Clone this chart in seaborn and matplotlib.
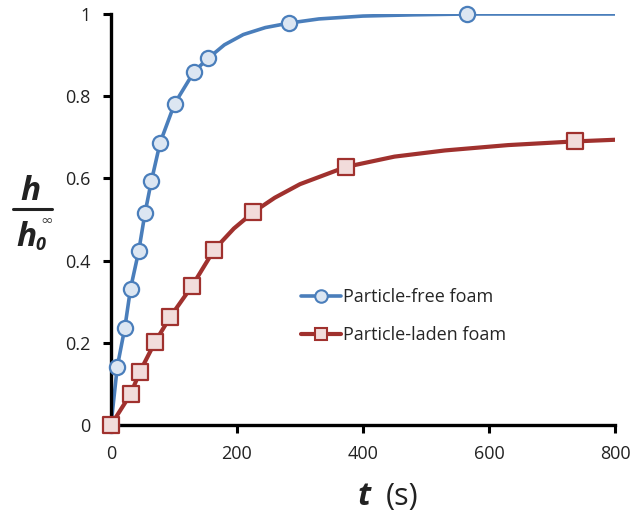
import matplotlib
matplotlib.use("Agg")
import matplotlib.pyplot as plt
import seaborn as sns
from matplotlib.lines import Line2D

# ---- data ----
blue_t = [0, 10, 22, 31, 44, 54, 64, 78, 101, 132, 154, 283, 565]
blue_h = [0, 0.142, 0.237, 0.332, 0.423, 0.516, 0.593, 0.687, 0.782, 0.860, 0.892, 0.978, 1.0]
blue_curve_t = [0, 10, 22, 31, 44, 54, 64, 78, 101, 132, 154, 180, 210, 245, 283, 330, 400, 480, 565, 680, 800]
blue_curve_h = [0, 0.142, 0.237, 0.332, 0.423, 0.516, 0.593, 0.687, 0.782, 0.860, 0.892, 0.925, 0.950,
                0.967, 0.978, 0.988, 0.995, 0.998, 1.0, 1.0, 1.0]

red_t = [0, 31, 46, 70, 94, 129, 164, 226, 373, 736]
red_h = [0, 0.075, 0.130, 0.202, 0.263, 0.339, 0.427, 0.518, 0.628, 0.690]
red_curve_t = [0, 31, 46, 70, 94, 129, 164, 195, 226, 260, 300, 373, 450, 530, 630, 736, 800]
red_curve_h = [0, 0.075, 0.130, 0.202, 0.263, 0.339, 0.427, 0.478, 0.518, 0.553, 0.586, 0.628,
               0.653, 0.668, 0.681, 0.690, 0.694]

series_labels = ["Particle-free foam", "Particle-laden foam"]
x_ticks = [0, 200, 400, 600, 800]
y_ticks = [0, 0.2, 0.4, 0.6, 0.8, 1.0]
y_tick_labels = ["0", "0.2", "0.4", "0.6", "0.8", "1"]

BLUE = "#4a7ebb"
BLUE_FACE = "#dce6f2"
RED = "#a0312e"
RED_FACE = "#f2dcdb"

sns.set_theme(style="white")
plt.rcParams["font.family"] = ["Open Sans", "DejaVu Sans"]

W, H = 636, 517
fig = plt.figure(figsize=(W / 100, H / 100), dpi=100)
ax = fig.add_axes([111 / W, 1 - 425 / H, (615 - 111) / W, (425 - 14) / H])

sns.lineplot(x=blue_curve_t, y=blue_curve_h, ax=ax, color=BLUE, lw=2.6, sort=False,
             estimator=None, zorder=2)
sns.lineplot(x=red_curve_t, y=red_curve_h, ax=ax, color=RED, lw=3.0, sort=False,
             estimator=None, zorder=3)
sns.scatterplot(x=blue_t, y=blue_h, ax=ax, marker="o", s=120, color=BLUE_FACE,
                edgecolor=BLUE, linewidth=1.6, zorder=4, clip_on=False)
sns.scatterplot(x=red_t, y=red_h, ax=ax, marker="s", s=125, color=RED_FACE,
                edgecolor=RED, linewidth=1.6, zorder=5, clip_on=False)

ax.set_xlim(0, 800)
ax.set_ylim(0, 1)
ax.set_xticks(x_ticks)
ax.set_xticklabels([str(v) for v in x_ticks])
ax.set_yticks(y_ticks)
ax.set_yticklabels(y_tick_labels)
ax.set_xlabel("")
ax.set_ylabel("")
for s in ["top", "right"]:
    ax.spines[s].set_visible(False)
for s in ["left", "bottom"]:
    ax.spines[s].set_linewidth(2.4)
    ax.spines[s].set_color("black")
    ax.spines[s].set_capstyle("projecting")
ax.tick_params(axis="both", direction="out", length=5.5, width=2.2, color="black",
               labelsize=13, labelcolor="#222222", pad=9, left=True, bottom=True)

handles = [
    Line2D([], [], color=BLUE, lw=2.6, marker="o", markersize=9, markerfacecolor=BLUE_FACE,
           markeredgecolor=BLUE, markeredgewidth=1.5),
    Line2D([], [], color=RED, lw=3.0, marker="s", markersize=9, markerfacecolor=RED_FACE,
           markeredgecolor=RED, markeredgewidth=1.5),
]
fig.legend(handles, series_labels, loc="upper left", bbox_to_anchor=(301 / W, 1 - 288 / H),
           frameon=False, fontsize=13, handlelength=2.2, handletextpad=0.15,
           labelspacing=1.1, borderpad=0, borderaxespad=0)

def fx(x):
    return x / W

def fy(y):
    return 1 - y / H

# y label: h / h0^inf
fig.text(fx(30), fy(200), "h", fontsize=24, fontweight="bold", fontstyle="italic",
         ha="center", va="baseline", color="#222222")
fig.add_artist(Line2D([fx(13), fx(52)], [fy(209), fy(209)], color="#222222", lw=2.2))
fig.text(fx(26), fy(246), "h", fontsize=24, fontweight="bold", fontstyle="italic",
         ha="center", va="baseline", color="#222222")
fig.text(fx(40), fy(250), "0", fontsize=13, fontweight="bold", fontstyle="italic",
         ha="center", va="baseline", color="#222222")
fig.text(fx(47), fy(220), "\u221e", fontsize=11, ha="center", va="center",
         family=["DejaVu Sans"], color="#444444")

# x label: t (s)
fig.text(fx(364), fy(505), "t", fontsize=23, fontweight="bold", fontstyle="italic",
         ha="center", va="baseline", color="#222222")
fig.text(fx(386), fy(505), "(s)", fontsize=22, ha="left", va="baseline", color="#222222")

fig.savefig("out.png", dpi=100)
